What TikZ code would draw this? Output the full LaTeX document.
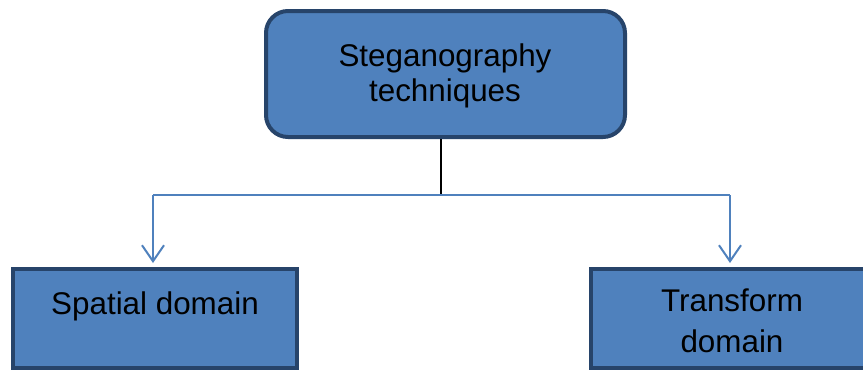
\documentclass[tikz,border=0pt]{standalone}
\usepackage{fontspec}
\setmainfont{Liberation Sans}
\usetikzlibrary{arrows.meta}
\definecolor{boxfill}{HTML}{4F81BD}
\definecolor{boxedge}{HTML}{27446A}
\tikzset{
  topbox/.style={draw=boxedge, fill=boxfill, line width=4bp, rounded corners=22bp, inner sep=0pt},
  leafbox/.style={draw=boxedge, fill=boxfill, line width=4bp, inner sep=0pt},
  lbl/.style={inner sep=0pt, align=center, font=\fontsize{31.5}{35}\selectfont},
  link/.style={draw=boxfill, line width=2bp},
  arr/.style={link, -{Straight Barb[length=16bp,width=22bp,line width=2bp]}, shorten >=4bp},
}
\begin{document}
\begin{tikzpicture}[x=1bp,y=-1bp]
\clip (0,0) rectangle (863,370);
\fill[white] (0,0) rectangle (863,370);
% boxes
\node[topbox, minimum width=359bp, minimum height=126bp] (top) at (445.5,74) {};
\node[leafbox, minimum width=284bp, minimum height=99bp] (sp) at (155,318.5) {};
\node[leafbox, minimum width=282bp, minimum height=99bp] (tr) at (732,318.5) {};
% texts
\node[lbl] (toptxt) at (445,76) {Steganography\\techniques};
\node[lbl, anchor=base] (sptxt) at (155,314) {Spatial domain};
\node[lbl, font=\fontsize{31.5}{41}\selectfont] (trtxt) at (732,321) {Transform\\domain};
% connectors
\coordinate (j) at (441,195);
\coordinate (jl) at (153,195);
\coordinate (jr) at (730,195);
\draw[black, line width=1.6bp] (top.south -| j) -- (j);
\draw[link] (jl) -- (jr);
\draw[arr] (jl) -- (jl |- sp.north);
\draw[arr] (jr) -- (jr |- tr.north);
\end{tikzpicture}
\end{document}
